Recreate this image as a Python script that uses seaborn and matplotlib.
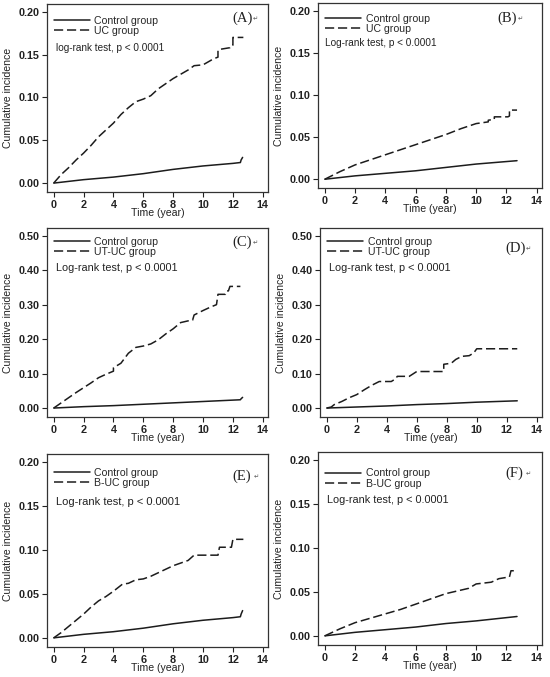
import matplotlib
matplotlib.use('Agg')
import matplotlib.pyplot as plt
import seaborn as sns
import numpy as np

# ---- data (cumulative incidence vs time in years) ----
a_ctrl_t = [0, 2, 4, 6, 8, 10, 12, 12.5, 12.55, 12.65]
a_ctrl_v = [0, 0.004, 0.007, 0.011, 0.016, 0.020, 0.023, 0.024, 0.027, 0.030]
a_uc_t = [0, 0.5, 1, 1.5, 2, 2.5, 3, 3.5, 4, 4.5, 5, 5.5, 6, 6.5, 7, 7.5, 8, 8.5, 9,
          9.4, 10.0, 10.4, 10.7, 11.0, 11.0, 11.1, 11.8, 11.9, 12.0, 12.0, 12.7]
a_uc_v = [0, 0.010, 0.018, 0.027, 0.035, 0.044, 0.054, 0.062, 0.070, 0.080, 0.088, 0.095,
          0.098, 0.102, 0.110, 0.116, 0.122, 0.127, 0.132, 0.137, 0.138, 0.142, 0.145,
          0.147, 0.155, 0.156, 0.158, 0.161, 0.161, 0.170, 0.170]

b_ctrl_t = [0, 2, 4, 6, 8, 10, 12.7]
b_ctrl_v = [0, 0.004, 0.007, 0.010, 0.014, 0.018, 0.022]
b_uc_t = [0, 1, 2, 3, 4, 5, 6, 7, 8, 9, 10, 10.8, 10.8, 11.2, 11.2, 12.1, 12.2, 12.2, 12.7]
b_uc_v = [0, 0.009, 0.017, 0.023, 0.029, 0.035, 0.041, 0.047, 0.053, 0.060, 0.066, 0.068,
          0.070, 0.071, 0.074, 0.074, 0.075, 0.082, 0.082]

c_ctrl_t = [0, 2, 4, 6, 8, 10, 12, 12.5, 12.55, 12.65]
c_ctrl_v = [0, 0.004, 0.007, 0.011, 0.015, 0.019, 0.023, 0.024, 0.027, 0.031]
c_uc_t = [0, 0.5, 1, 1.5, 2, 2.5, 3, 3.5, 4, 4.0, 4.5, 5, 5.5, 6, 6.5, 7, 7.5, 8, 8.5,
          9, 9.3, 9.4, 10, 10.5, 10.9, 11.0, 11.5, 11.6, 11.7, 11.8, 12.5]
c_uc_v = [0, 0.015, 0.030, 0.045, 0.059, 0.073, 0.088, 0.098, 0.107, 0.117, 0.130, 0.159,
          0.176, 0.180, 0.186, 0.198, 0.215, 0.230, 0.248, 0.253, 0.255, 0.270, 0.283,
          0.293, 0.300, 0.330, 0.330, 0.340, 0.340, 0.353, 0.353]

d_ctrl_t = [0, 2, 4, 6, 8, 10, 12.7]
d_ctrl_v = [0, 0.003, 0.006, 0.010, 0.013, 0.017, 0.021]
d_uc_t = [0, 0.3, 0.5, 1, 1.5, 2, 2.5, 3, 3.5, 4.3, 4.6, 4.7, 5.5, 6.0, 7.8, 7.8, 8.3,
          8.6, 9.0, 9.5, 9.8, 10.0, 12.7]
d_uc_v = [0, 0.003, 0.010, 0.019, 0.030, 0.039, 0.053, 0.066, 0.077, 0.077, 0.085, 0.092,
          0.092, 0.106, 0.106, 0.127, 0.130, 0.141, 0.150, 0.152, 0.160, 0.172, 0.172]

e_ctrl_t = [0, 2, 4, 6, 8, 10, 12, 12.5, 12.55, 12.65]
e_ctrl_v = [0, 0.004, 0.007, 0.011, 0.016, 0.020, 0.023, 0.024, 0.027, 0.031]
e_uc_t = [0, 0.5, 1, 1.5, 2, 2.5, 3, 3.5, 4, 4.6, 5, 5.5, 6, 6.5, 7, 7.5, 8, 8.5, 9,
          9.4, 11.0, 11.1, 11.9, 12.0, 12.7]
e_uc_v = [0, 0.006, 0.013, 0.020, 0.027, 0.035, 0.042, 0.047, 0.053, 0.061, 0.062, 0.066,
          0.067, 0.070, 0.074, 0.078, 0.082, 0.085, 0.088, 0.094, 0.094, 0.103, 0.103,
          0.112, 0.112]

f_ctrl_t = [0, 2, 4, 6, 8, 10, 12.7]
f_ctrl_v = [0, 0.004, 0.007, 0.010, 0.014, 0.017, 0.022]
f_uc_t = [0, 1, 2, 3, 4, 5, 6, 7, 8, 9, 9.5, 10.0, 11.0, 11.5, 12.2, 12.3, 12.7]
f_uc_v = [0, 0.008, 0.015, 0.020, 0.025, 0.030, 0.036, 0.042, 0.048, 0.052, 0.054, 0.059,
          0.061, 0.065, 0.067, 0.074, 0.074]

panel_letters = ['(A)', '(B)', '(C)', '(D)', '(E)', '(F)']
ctrl_labels = ['Control group', 'Control group', 'Control gorup', 'Control group',
               'Control group', 'Control group']
case_labels = ['UC group', 'UC group', 'UT-UC group', 'UT-UC group', 'B-UC group', 'B-UC group']
test_labels = ['log-rank test, p < 0.0001'] + ['Log-rank test, p < 0.0001'] * 5
y_max = [0.20, 0.20, 0.50, 0.50, 0.20, 0.20]

ctrl_series = [(a_ctrl_t, a_ctrl_v), (b_ctrl_t, b_ctrl_v), (c_ctrl_t, c_ctrl_v),
               (d_ctrl_t, d_ctrl_v), (e_ctrl_t, e_ctrl_v), (f_ctrl_t, f_ctrl_v)]
case_series = [(a_uc_t, a_uc_v), (b_uc_t, b_uc_v), (c_uc_t, c_uc_v),
               (d_uc_t, d_uc_v), (e_uc_t, e_uc_v), (f_uc_t, f_uc_v)]

sns.set_theme(style='ticks')
plt.rcParams['font.family'] = ['Liberation Sans', 'DejaVu Sans']

fig = plt.figure(figsize=(5.5, 6.77), dpi=100)

# axes boxes in pixels: (left, top, width, height)
W, H = 550.0, 677.0
boxes = [(47, 4, 221, 188), (318, 3, 224, 185),
         (47, 228, 221, 189), (320, 228, 222, 189),
         (47, 454, 221, 193), (318, 452, 224, 193)]

line_col = '#1c1c1c'
# per-panel text placement (axes fractions), tuned by eye against the reference
test_fs = [7.2, 7.2, 7.8, 7.8, 8.0, 7.8]
test_y = [0.766, 0.785, 0.79, 0.79, 0.75, 0.75]
leg_y = [0.978, 0.983, 0.994, 0.994, 0.968, 0.953]
lett_x = [0.837, 0.80, 0.837, 0.833, 0.84, 0.835]
lett_y = [0.925, 0.92, 0.926, 0.894, 0.886, 0.89]

for i in range(6):
    l, t, w, h = boxes[i]
    ax = fig.add_axes([l / W, 1 - (t + h) / H, w / W, h / H])
    ct, cv = ctrl_series[i]
    ut, uv = case_series[i]
    sns.lineplot(x=ct, y=cv, ax=ax, estimator=None, sort=False, color=line_col,
                 linewidth=1.1, label=ctrl_labels[i])
    sns.lineplot(x=ut, y=uv, ax=ax, estimator=None, sort=False, color=line_col,
                 linewidth=1.1, linestyle=(0, (6, 2.5)), label=case_labels[i])

    ym = y_max[i]
    ax.set_xlim(-0.45, 14.35)
    ax.set_ylim(-0.052 * ym, 1.045 * ym)
    ax.set_xticks(np.arange(0, 15, 2))
    if ym > 0.3:
        ax.set_yticks(np.arange(0, 0.51, 0.10))
    else:
        ax.set_yticks(np.arange(0, 0.21, 0.05))
    ax.yaxis.set_major_formatter(matplotlib.ticker.FormatStrFormatter('%.2f'))
    ax.tick_params(direction='out', length=3.5, width=0.8, labelsize=7.8, pad=2, colors='#222222')
    for lab in ax.get_xticklabels() + ax.get_yticklabels():
        lab.set_fontweight('bold')
    for sp in ax.spines.values():
        sp.set_visible(True)
        sp.set_linewidth(0.9)
        sp.set_color('#333333')

    ax.set_xlabel('Time (year)', fontsize=7.6, labelpad=-1, color='#222222')
    ax.set_ylabel('Cumulative incidence', fontsize=7.6, labelpad=4, color='#222222')

    ax.legend(loc='upper left', bbox_to_anchor=(0.0, leg_y[i]), frameon=False, fontsize=7.6,
              handlelength=3.4, handletextpad=0.4, labelspacing=0.05, borderaxespad=0.3)

    ax.text(0.04 if i != 1 else 0.03, test_y[i], test_labels[i],
            transform=ax.transAxes, fontsize=test_fs[i], ha='left', va='center', color='#222222')

    ax.text(lett_x[i], lett_y[i], panel_letters[i], transform=ax.transAxes, fontsize=10.5,
            family=['Liberation Serif', 'DejaVu Serif'], ha='left', va='center', color='#222222')
    ax.text(lett_x[i] + 0.093, lett_y[i] - 0.005, '\u21b5', transform=ax.transAxes, fontsize=4.5,
            family=['DejaVu Sans'], ha='left', va='center', color='#555555')

fig.savefig('out.png', dpi=100)
plt.close(fig)
